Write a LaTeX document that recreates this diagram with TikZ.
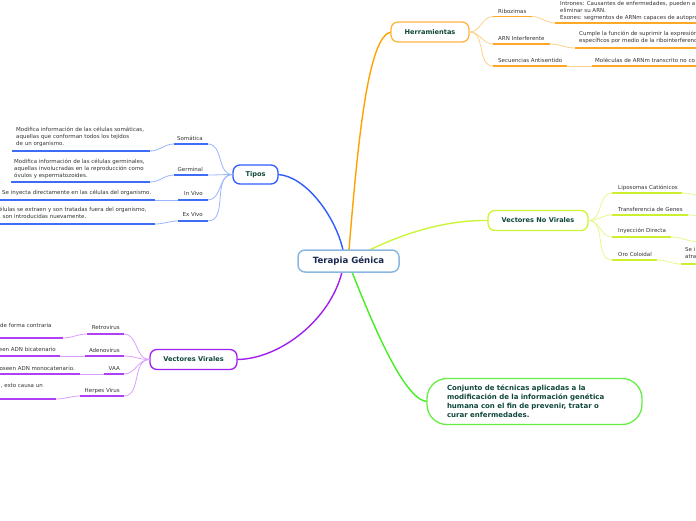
\documentclass[tikz,border=0pt]{standalone}
\usepackage{fontspec}
\setmainfont{DejaVu Sans}
\definecolor{catText}{HTML}{10473A}
\definecolor{ctrText}{HTML}{1A2A50}
\definecolor{txtGray}{HTML}{333333}
\definecolor{cBorder}{HTML}{8AB8E0}
\definecolor{oMain}{HTML}{FFA200}
\definecolor{oLine}{HTML}{FFA726}
\definecolor{oLink}{HTML}{FFD08A}
\definecolor{oBorder}{HTML}{FFB443}
\definecolor{bMain}{HTML}{2F5BFF}
\definecolor{bLine}{HTML}{3F6CF5}
\definecolor{bLink}{HTML}{9AB4FF}
\definecolor{pMain}{HTML}{A020F0}
\definecolor{pLine}{HTML}{B040F5}
\definecolor{pLink}{HTML}{D9A0FF}
\definecolor{yMain}{HTML}{CCF53A}
\definecolor{yLine}{HTML}{CCF030}
\definecolor{yLink}{HTML}{E4F98A}
\definecolor{gMain}{HTML}{44EE22}
\definecolor{gBorder}{HTML}{66EE44}
\begin{document}
\begin{tikzpicture}[x=1pt,y=-1pt,
  cat/.style={draw,fill=white,rounded corners=7pt,line width=1.3pt,inner sep=0pt,font=\bfseries\fontsize{6.6}{8}\selectfont,text=catText},
  leaf/.style={inner sep=0pt,font=\fontsize{5.5}{7}\selectfont,text=txtGray},
  desc/.style={leaf,align=left,anchor=north west},
  uline/.style={line width=1.8pt},
  link/.style={line width=0.8pt},
  mainl/.style={line width=1.4pt}]
\useasboundingbox (0,0) rectangle (696,520);
\clip (0,0) rectangle (696,520);

% ---------- main connectors (drawn first) ----------
\coordinate (cN) at (348.5,250);
\coordinate (cS) at (348.5,272);
\coordinate (herW) at (391,32);
\coordinate (tipE) at (278,174.5);
\coordinate (novW) at (488,220.5);
\coordinate (virE) at (237,359.5);
\coordinate (defW) at (427,401.5);
\draw[mainl,draw=oMain] ([xshift=0.5pt]cN) .. controls (358,140) and (368,36) .. (herW);
\draw[mainl,draw=bMain] ([xshift=-5.5pt]cN) .. controls (335,215) and (305,176) .. (tipE);
\draw[mainl,draw=yMain] ([xshift=21pt]cN) .. controls (415,228) and (455,220) .. (novW);
\draw[mainl,draw=pMain] ([xshift=-6.5pt]cS) .. controls (330,320) and (280,359) .. (virE);
\draw[mainl,draw=gMain] ([xshift=3.5pt]cS) .. controls (375,330) and (405,400) .. (defW);

% ---------- main nodes ----------
\node[cat,draw=cBorder,line width=1.5pt,minimum width=101pt,minimum height=22pt,font=\bfseries\fontsize{8.6}{10}\selectfont,text=ctrText] (ctr) at (348.5,261) {Terapia Génica};
\node[cat,draw=oBorder,minimum width=78pt,minimum height=20pt] (her) at (430,32) {Herramientas};
\node[cat,draw=bMain,minimum width=45pt,minimum height=19pt] (tip) at (255.5,174.5) {Tipos};
\node[cat,draw=pMain,minimum width=87pt,minimum height=20pt] (vir) at (193.5,359.5) {Vectores Virales};
\node[cat,draw=yMain,minimum width=100pt,minimum height=20pt] (nov) at (538,220.5) {Vectores No Virales};
\node[cat,draw=gBorder,rounded corners=20pt,minimum width=215pt,minimum height=46pt,text width=175pt,align=left,inner xsep=20pt,font=\bfseries\fontsize{7}{9}\selectfont] (def) at (534.5,401.5) {Conjunto de técnicas aplicadas a la\\modificación de la información genética\\humana con el fin de prevenir, tratar o\\curar enfermedades.};

% ---------- Herramientas ----------
\coordinate (ribA) at (493,16.5); \coordinate (ribB) at (532,16.5);
\coordinate (ribC) at (555,23); \coordinate (ribD) at (700,23);
\node[leaf,anchor=base west] (rib) at (498,13) {Ribozimas};
\draw[link,draw=oLink] (her.east) to[out=0,in=180] (ribA);
\draw[uline,draw=oLine] (ribA) -- (ribB);
\draw[link,draw=oLink] (ribB) to[out=0,in=180] (ribC);
\draw[uline,draw=oLine] (ribC) -- (ribD);
\node[desc] (ribt) at (560,1) {Intrones: Causantes de enfermedades, pueden a\\eliminar su ARN.\\Exones: segmentos de ARNm capaces de autopro};

\coordinate (aiA) at (493,44); \coordinate (aiB) at (550,44);
\coordinate (aiC) at (575,48); \coordinate (aiD) at (700,48);
\node[leaf,anchor=base west] (ai) at (498,40) {ARN Interferente};
\draw[link,draw=oLink] (her.east) to[out=0,in=180] (aiA);
\draw[uline,draw=oLine] (aiA) -- (aiB);
\draw[link,draw=oLink] (aiB) to[out=0,in=180] (aiC);
\draw[uline,draw=oLine] (aiC) -- (aiD);
\node[desc] (ait) at (579,31) {Cumple la función de suprimir la expresión\\específicos por medio de la ribointerferenc};

\coordinate (saA) at (493,66); \coordinate (saB) at (567,66);
\coordinate (saC) at (592,66); \coordinate (saD) at (700,66);
\node[leaf,anchor=base west] (sa) at (498,62) {Secuencias Antisentido};
\draw[link,draw=oLink] (her.east) to[out=0,in=180] (saA);
\draw[uline,draw=oLine] (saA) -- (saB);
\draw[link,draw=oLink] (saB) -- (saC);
\draw[uline,draw=oLine] (saC) -- (saD);
\node[leaf,anchor=base west] (sat) at (595,62) {Moléculas de ARNm transcrito no co};

% ---------- Tipos ----------
\coordinate (somA) at (208,144); \coordinate (somB) at (174,144);
\coordinate (somC) at (150,151); \coordinate (somD) at (12,151);
\node[leaf,anchor=base east] (som) at (203,140) {Somática};
\draw[link,draw=bLink] (tip.west) to[out=180,in=0] (somA);
\draw[uline,draw=bLine] (somA) -- (somB);
\draw[link,draw=bLink] (somB) to[out=180,in=0] (somC);
\draw[uline,draw=bLine] (somC) -- (somD);
\node[desc] (somt) at (16,127) {Modifica información de las células somáticas,\\aquellas que conforman todos los tejidos\\de un organismo.};

\coordinate (gerA) at (208,175); \coordinate (gerB) at (174,175);
\coordinate (gerC) at (150,182); \coordinate (gerD) at (11,182);
\node[leaf,anchor=base east] (ger) at (203,171) {Germinal};
\draw[link,draw=bLink] (tip.west) to[out=180,in=0] (gerA);
\draw[uline,draw=bLine] (gerA) -- (gerB);
\draw[link,draw=bLink] (gerB) to[out=180,in=0] (gerC);
\draw[uline,draw=bLine] (gerC) -- (gerD);
\node[desc] (gert) at (14,158.5) {Modifica información de las células germinales,\\aquellas involucradas en la reproducción como\\óvulos y espermatozoides.};

\coordinate (invA) at (208,200); \coordinate (invB) at (178,200);
\coordinate (invC) at (155,200); \coordinate (invD) at (-5,200);
\node[leaf,anchor=base east] (inv) at (203,195) {In Vivo};
\draw[link,draw=bLink] (tip.west) to[out=180,in=0] (invA);
\draw[uline,draw=bLine] (invA) -- (invB);
\draw[link,draw=bLink] (invB) -- (invC);
\draw[uline,draw=bLine] (invC) -- (invD);
\node[leaf,anchor=base west] (invt) at (2,194) {Se inyecta directamente en las células del organismo.};

\coordinate (exvA) at (208,221); \coordinate (exvB) at (178,221);
\coordinate (exvC) at (155,224); \coordinate (exvD) at (-5,224);
\node[leaf,anchor=base east] (exv) at (203,216) {Ex Vivo};
\draw[link,draw=bLink] (tip.west) to[out=180,in=0] (exvA);
\draw[uline,draw=bLine] (exvA) -- (exvB);
\draw[link,draw=bLink] (exvB) to[out=180,in=0] (exvC);
\draw[uline,draw=bLine] (exvC) -- (exvD);
\node[desc] (exvt) at (-1,207) {élulas se extraen y son tratadas fuera del organismo,\\, son introducidas nuevamente.};

% ---------- Vectores Virales ----------
\coordinate (retA) at (124,334); \coordinate (retB) at (87,334);
\coordinate (retC) at (63,338); \coordinate (retD) at (-5,338);
\node[leaf,anchor=base east] (ret) at (120,329.5) {Retrovirus};
\draw[link,draw=pLink] (vir.west) to[out=180,in=0] (retA);
\draw[uline,draw=pLine] (retA) -- (retB);
\draw[link,draw=pLink] (retB) to[out=180,in=0] (retC);
\draw[uline,draw=pLine] (retC) -- (retD);
\node[leaf,anchor=base west] (rett) at (0,327) {de forma contraria};

\coordinate (adeA) at (124,356); \coordinate (adeB) at (85,356);
\coordinate (adeC) at (60,356); \coordinate (adeD) at (-5,356);
\node[leaf,anchor=base east] (ade) at (120,352) {Adenovirus};
\draw[link,draw=pLink] (vir.west) to[out=180,in=0] (adeA);
\draw[uline,draw=pLine] (adeA) -- (adeB);
\draw[link,draw=pLink] (adeB) -- (adeC);
\draw[uline,draw=pLine] (adeC) -- (adeD);
\node[leaf,anchor=base east] (adet) at (56,351) {een ADN bicatenario};

\coordinate (vaaA) at (124,374); \coordinate (vaaB) at (104,374);
\coordinate (vaaC) at (80,374); \coordinate (vaaD) at (-5,374);
\node[leaf,anchor=base east] (vaa) at (120,370) {VAA};
\draw[link,draw=pLink] (vir.west) to[out=180,in=0] (vaaA);
\draw[uline,draw=pLine] (vaaA) -- (vaaB);
\draw[link,draw=pLink] (vaaB) -- (vaaC);
\draw[uline,draw=pLine] (vaaC) -- (vaaD);
\node[leaf,anchor=base east] (vaat) at (75,370) {oseen ADN monocatenario.};

\coordinate (hrpA) at (124,396); \coordinate (hrpB) at (80,396);
\coordinate (hrpC) at (56,399); \coordinate (hrpD) at (-5,399);
\node[leaf,anchor=base east] (hrp) at (120,392) {Herpes Virus};
\draw[link,draw=pLink] (vir.west) to[out=180,in=0] (hrpA);
\draw[uline,draw=pLine] (hrpA) -- (hrpB);
\draw[link,draw=pLink] (hrpB) to[out=180,in=0] (hrpC);
\draw[uline,draw=pLine] (hrpC) -- (hrpD);
\node[leaf,anchor=base east] (hrpt) at (43,387) {, esto causa un};

% ---------- Vectores No Virales ----------
\coordinate (lipA) at (612,193); \coordinate (lipB) at (682,193); \coordinate (lipC) at (712,198);
\node[leaf,anchor=base west] (lip) at (618,189) {Liposomas Catiónicos};
\draw[link,draw=yLink] (nov.east) to[out=0,in=180] (lipA);
\draw[uline,draw=yLine] (lipA) -- (lipB);
\draw[link,draw=yLink] (lipB) to[out=0,in=180] (lipC);

\coordinate (traA) at (612,215); \coordinate (traB) at (688,215); \coordinate (traC) at (712,218);
\node[leaf,anchor=base west] (tra) at (618,211) {Transferencia de Genes};
\draw[link,draw=yLink] (nov.east) to[out=0,in=180] (traA);
\draw[uline,draw=yLine] (traA) -- (traB);
\draw[link,draw=yLink] (traB) to[out=0,in=180] (traC);

\coordinate (inyA) at (612,237); \coordinate (inyB) at (671,237); \coordinate (inyC) at (700,242);
\node[leaf,anchor=base west] (iny) at (618,232.5) {Inyección Directa};
\draw[link,draw=yLink] (nov.east) to[out=0,in=180] (inyA);
\draw[uline,draw=yLine] (inyA) -- (inyB);
\draw[link,draw=yLink] (inyB) to[out=0,in=180] (inyC);

\coordinate (oroA) at (612,260); \coordinate (oroB) at (657,260);
\coordinate (oroC) at (681,264); \coordinate (oroD) at (700,264);
\node[leaf,anchor=base west] (oro) at (618,256) {Oro Coloidal};
\draw[link,draw=yLink] (nov.east) to[out=0,in=180] (oroA);
\draw[uline,draw=yLine] (oroA) -- (oroB);
\draw[link,draw=yLink] (oroB) to[out=0,in=180] (oroC);
\draw[uline,draw=yLine] (oroC) -- (oroD);
\node[desc] (orot) at (685,247.5) {Se i\\atra};
\end{tikzpicture}
\end{document}
